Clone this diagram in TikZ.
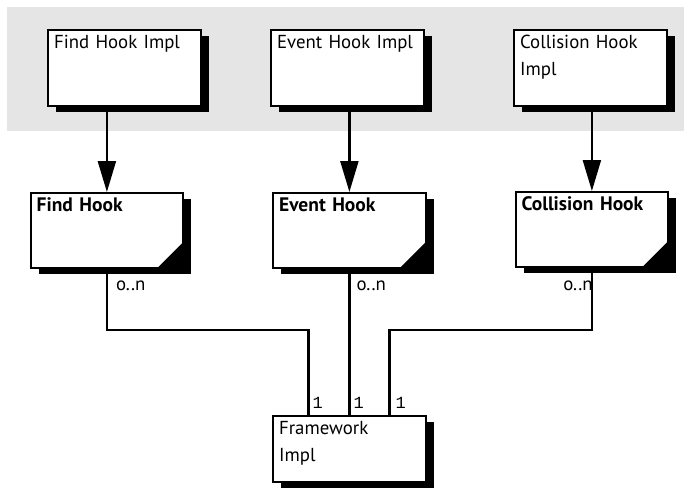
\documentclass[tikz,border=0pt]{standalone}
\usepackage{fontspec}
\setmainfont{PT Sans}
\newfontfamily\monofont{Liberation Mono}
\usetikzlibrary{arrows.meta,shadows}

\begin{document}
\begin{tikzpicture}[x=1pt,y=-1pt,
  box/.style={draw,fill=white,line width=2.2pt,anchor=north west,align=left,
              inner xsep=6pt,inner ysep=4pt,text width=140.6pt,text height=14pt,
              font=\fontsize{18.8}{27}\selectfont,
              drop shadow={shadow xshift=8pt,shadow yshift=-6pt,fill=black,opacity=1}},
  impl/.style={box,text depth=53.8pt},
  hook/.style={box,text depth=52.8pt,font=\fontsize{19.5}{27}\selectfont\bfseries},
  fw/.style={box,text depth=43.8pt},
  a/.style={-{Triangle[length=31pt,width=18pt]},line width=2.2pt},
  w/.style={line width=2.2pt},
  mult/.style={inner sep=0pt,font=\fontsize{18.8}{24}\selectfont},
  one/.style={inner sep=0pt,font=\monofont\fontsize{17}{20}\selectfont}
]
\useasboundingbox (0,0) rectangle (684,493);
\fill[gray!20] (7,7) rectangle (684,131);

\node[impl] (fhi) at (47,29)  {Find Hook Impl};
\node[impl] (ehi) at (270,29) {Event Hook Impl};
\node[impl] (chi) at (513,29) {Collision Hook\\Impl};

\node[hook] (fh) at (29.5,192) {Find Hook};
\node[hook] (eh) at (272,192)  {Event Hook};
\node[hook] (ch) at (514.5,191) {Collision Hook};
\foreach \n in {fh,eh,ch}
  \fill (\n.south east) -- ([xshift=-28pt]\n.south east) -- ([yshift=28pt]\n.south east) -- cycle;

\node[fw] (fwk) at (272,415) {Framework\\Impl};

\draw[a] (fh.north |- fhi.south) -- (fh.north);
\draw[a] (eh.north |- ehi.south) -- (eh.north);
\draw[a] (ch.north |- chi.south) -- (ch.north);

\draw[w] (fh.south) -- ++(0,61) -| ([xshift=-41pt]fwk.north);
\draw[w] (eh.south) -- (fwk.north);
\draw[w] (ch.south) -- ++(0,62) -| ([xshift=40pt]fwk.north);

\node[mult,anchor=base west] (m1) at ([xshift=9pt,yshift=-21pt]fh.south) {o..n};
\node[mult,anchor=base west] (m2) at ([xshift=7pt,yshift=-21pt]eh.south) {o..n};
\node[mult,anchor=base east] (m3) at ([xshift=1pt,yshift=-22pt]ch.south) {o..n};
\node[one,anchor=base west] (n1) at ([xshift=-37pt,yshift=7pt]fwk.north) {1};
\node[one,anchor=base west] (n2) at ([xshift=4pt,yshift=7pt]fwk.north) {1};
\node[one,anchor=base west] (n3) at ([xshift=46pt,yshift=7pt]fwk.north) {1};
\end{tikzpicture}
\end{document}
